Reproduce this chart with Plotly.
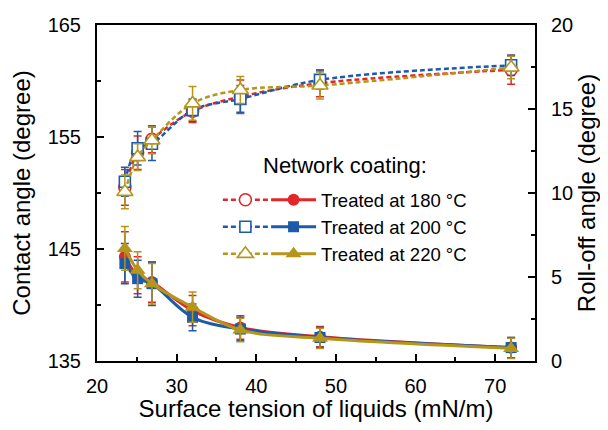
import plotly.graph_objects as go

# ---- data ----
tension = [23.5, 25.1, 26.9, 32.0, 38.0, 48.0, 72.0]
labels = ["Treated at 180 °C", "Treated at 200 °C", "Treated at 220 °C"]

ca_180 = [150.5, 153.6, 154.8, 157.3, 158.6, 159.8, 161.0]
ca_200 = [151.0, 154.0, 154.4, 157.4, 158.4, 160.1, 161.4]
ca_220 = [150.1, 153.2, 154.7, 158.0, 159.2, 159.6, 161.2]
ca_err_180 = [1.6, 1.5, 1.2, 1.0, 1.5, 1.2, 1.3]
ca_err_200 = [1.3, 1.5, 1.5, 1.0, 1.2, 0.8, 0.9]
ca_err_220 = [1.5, 1.2, 1.2, 1.5, 1.2, 1.2, 1.0]

ro_180 = [6.2, 5.1, 4.7, 3.0, 2.0, 1.45, 0.8]
ro_200 = [5.8, 4.9, 4.6, 2.6, 1.9, 1.4, 0.8]
ro_220 = [6.7, 5.4, 4.6, 3.2, 1.85, 1.35, 0.75]
ro_err_180 = [1.5, 1.1, 1.2, 0.9, 0.7, 0.6, 0.6]
ro_err_200 = [1.2, 1.1, 1.3, 0.8, 0.7, 0.6, 0.6]
ro_err_220 = [1.3, 1.1, 1.2, 0.9, 0.7, 0.6, 0.6]

x_ticks = [20, 30, 40, 50, 60, 70]
ca_ticks = [135, 145, 155, 165]
ro_ticks = [0, 5, 10, 15, 20]

colors = ["#E3262A", "#1C5BAA", "#B5961A"]
symbols = ["circle", "square", "triangle-up"]
sizes = [12, 11, 14]

FONT = "Liberation Sans, Arial, sans-serif"

fig = go.Figure()

ca_sets = [(ca_180, ca_err_180), (ca_200, ca_err_200), (ca_220, ca_err_220)]
ro_sets = [(ro_180, ro_err_180), (ro_200, ro_err_200), (ro_220, ro_err_220)]

# contact angle: dashed, open markers (left axis)
for i, (vals, err) in enumerate(ca_sets):
    fig.add_trace(go.Scatter(
        x=tension, y=vals, mode="lines+markers", name="",
        legend="legend2", legendgroup=f"g{i}",
        line=dict(color=colors[i], width=2.5, dash="5px,3px", shape="spline"),
        marker=dict(symbol=symbols[i], size=sizes[i], color="white",
                    line=dict(color=colors[i], width=1.6)),
        error_y=dict(type="data", array=err, visible=True, color=colors[i],
                     thickness=1.5, width=4),
        yaxis="y",
    ))

# roll-off angle: solid, filled markers (right axis)
for i, (vals, err) in enumerate(ro_sets):
    fig.add_trace(go.Scatter(
        x=tension, y=vals, mode="lines+markers", name=labels[i],
        legend="legend", legendgroup=f"g{i}",
        line=dict(color=colors[i], width=3, shape="spline"),
        marker=dict(symbol=symbols[i], size=sizes[i], color=colors[i]),
        error_y=dict(type="data", array=err, visible=True, color=colors[i],
                     thickness=1.5, width=4),
        yaxis="y2",
    ))

axis_common = dict(
    showgrid=False, zeroline=False, showline=True, linecolor="black", linewidth=2,
    ticks="inside", ticklen=7, tickwidth=2, tickcolor="black", automargin=False,
    tickfont=dict(family=FONT, size=20, color="black"),
)

fig.update_layout(
    width=592, height=414,
    margin=dict(l=89, r=65, t=17, b=61),
    paper_bgcolor="white", plot_bgcolor="white",
    font=dict(family=FONT, color="black"),
    showlegend=True,
    xaxis=dict(
        **axis_common, range=[20, 75], tickvals=x_ticks, mirror=True,
        ticklabelstandoff=6,
        minor=dict(dtick=5, tick0=25, ticks="inside", ticklen=4, tickwidth=2, tickcolor="black"),
        title=dict(text="Surface tension of liquids (mN/m)",
                   font=dict(family=FONT, size=24, color="black"), standoff=10),
    ),
    yaxis=dict(
        **axis_common, range=[135, 165], tickvals=ca_ticks, mirror=True,
        ticklabelstandoff=10,
        minor=dict(dtick=5, tick0=140, ticks="inside", ticklen=4, tickwidth=2, tickcolor="black"),
        title=dict(text="Contact angle (degree)",
                   font=dict(family=FONT, size=24, color="black"), standoff=10),
    ),
    yaxis2=dict(
        **axis_common, range=[0, 20], tickvals=ro_ticks, overlaying="y", side="right",
        ticklabelstandoff=10,
        minor=dict(dtick=2.5, tick0=2.5, ticks="inside", ticklen=4, tickwidth=2, tickcolor="black"),
        title=dict(text="Roll-off angle (degree)",
                   font=dict(family=FONT, size=24, color="black"), standoff=10),
    ),
    legend=dict(
        x=0.386, y=0.535, xanchor="left", yanchor="top",
        bgcolor="rgba(0,0,0,0)", borderwidth=0, itemwidth=45,
        font=dict(family=FONT, size=18.5, color="black"),
        tracegroupgap=0, traceorder="grouped",
    ),
    legend2=dict(
        x=0.276, y=0.535, xanchor="left", yanchor="top",
        bgcolor="rgba(0,0,0,0)", borderwidth=0, itemwidth=45,
        font=dict(family=FONT, size=18.5, color="black"),
        tracegroupgap=0, traceorder="grouped",
    ),
    annotations=[dict(
        text="Network coating:", xref="paper", yref="paper",
        x=(261 - 97) / 438, y=(361 - 166) / 336, xanchor="left", yanchor="middle",
        showarrow=False, font=dict(family=FONT, size=22, color="black"),
    )],
)

fig.write_html("out.html")
